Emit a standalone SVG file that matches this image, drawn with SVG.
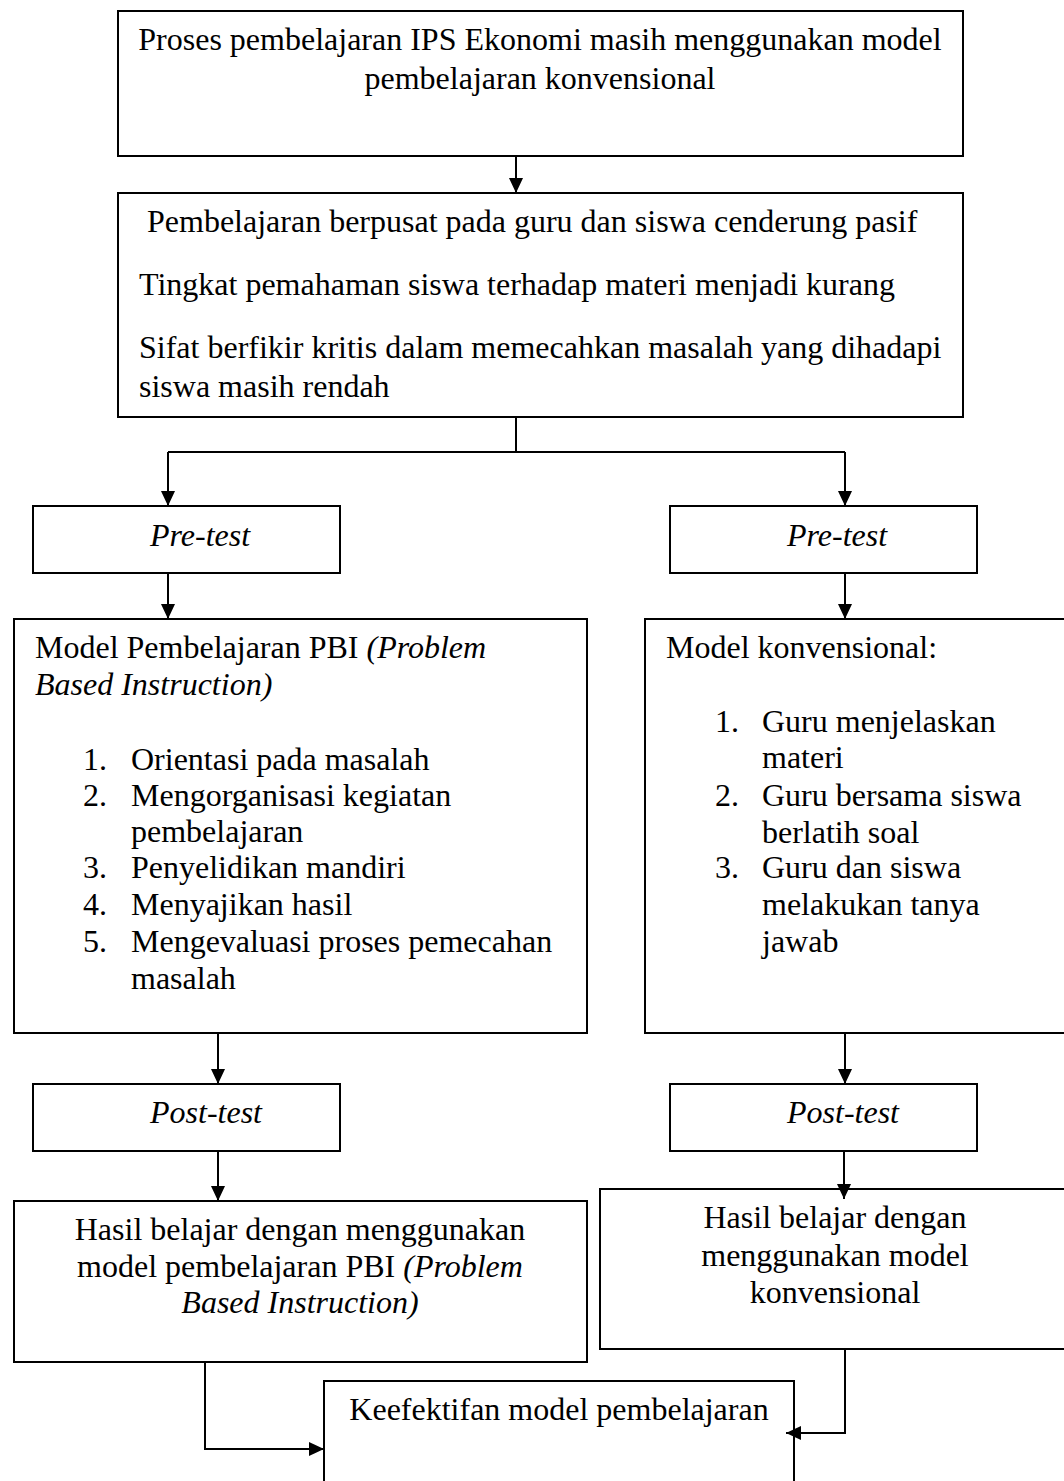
<svg xmlns="http://www.w3.org/2000/svg" width="1064" height="1481" viewBox="0 0 1064 1481">
<style>
.box{fill:#fff;stroke:#000;stroke-width:2}
.t{font-family:"Liberation Serif","Times New Roman",serif;font-size:32px;fill:#000}
.i{font-style:italic}
.c{text-anchor:middle}
.ln{fill:none;stroke:#000;stroke-width:2}
</style>
<defs>
<marker id="ah" markerUnits="userSpaceOnUse" markerWidth="16" markerHeight="14" refX="15" refY="7" orient="auto">
<path d="M0,0 L15,7 L0,14 z" fill="#000"/>
</marker>
</defs>
<rect width="1064" height="1481" fill="#fff"/>
<g id="n-proses">
<rect class="box" x="118" y="11" width="845" height="145"/>
<text class="t c" x="540" y="50">Proses pembelajaran IPS Ekonomi masih menggunakan model</text>
<text class="t c" x="540" y="89">pembelajaran konvensional</text>
</g>
<g id="n-masalah">
<rect class="box" x="118" y="193" width="845" height="224"/>
<text class="t" x="147" y="232">Pembelajaran berpusat pada guru dan siswa cenderung pasif</text>
<text class="t" x="139" y="295">Tingkat pemahaman siswa terhadap materi menjadi kurang</text>
<text class="t" x="139" y="358">Sifat berfikir kritis dalam memecahkan masalah yang dihadapi</text>
<text class="t" x="139" y="397">siswa masih rendah</text>
</g>
<g id="n-pretest-l">
<rect class="box" x="33" y="506" width="307" height="67"/>
<text class="t i" x="150" y="546">Pre-test</text>
</g>
<g id="n-pretest-r">
<rect class="box" x="670" y="506" width="307" height="67"/>
<text class="t i" x="787" y="546">Pre-test</text>
</g>
<g id="n-pbi">
<rect class="box" x="14" y="619" width="573" height="414"/>
<text class="t" x="35" y="658">Model Pembelajaran PBI <tspan class="i">(Problem</tspan></text>
<text class="t i" x="35" y="695">Based Instruction)</text>
<text class="t" x="83" y="770">1.</text><text class="t" x="131" y="770">Orientasi pada masalah</text>
<text class="t" x="83" y="806">2.</text><text class="t" x="131" y="806">Mengorganisasi kegiatan</text>
<text class="t" x="131" y="842">pembelajaran</text>
<text class="t" x="83" y="878">3.</text><text class="t" x="131" y="878">Penyelidikan mandiri</text>
<text class="t" x="83" y="915">4.</text><text class="t" x="131" y="915">Menyajikan hasil</text>
<text class="t" x="83" y="952">5.</text><text class="t" x="131" y="952">Mengevaluasi proses pemecahan</text>
<text class="t" x="131" y="989">masalah</text>
</g>
<g id="n-konv">
<rect class="box" x="645" y="619" width="430" height="414"/>
<text class="t" x="666" y="658">Model konvensional:</text>
<text class="t" x="715" y="732">1.</text><text class="t" x="762" y="732">Guru menjelaskan</text>
<text class="t" x="762" y="768">materi</text>
<text class="t" x="715" y="806">2.</text><text class="t" x="762" y="806">Guru bersama siswa</text>
<text class="t" x="762" y="843">berlatih soal</text>
<text class="t" x="715" y="878">3.</text><text class="t" x="762" y="878">Guru dan siswa</text>
<text class="t" x="762" y="915">melakukan tanya</text>
<text class="t" x="762" y="952">jawab</text>
</g>
<g id="n-posttest-l">
<rect class="box" x="33" y="1084" width="307" height="67"/>
<text class="t i" x="150" y="1123">Post-test</text>
</g>
<g id="n-posttest-r">
<rect class="box" x="670" y="1084" width="307" height="67"/>
<text class="t i" x="787" y="1123">Post-test</text>
</g>
<g id="n-hasil-pbi">
<rect class="box" x="14" y="1201" width="573" height="161"/>
<text class="t c" x="300" y="1240">Hasil belajar dengan menggunakan</text>
<text class="t c" x="300" y="1277">model pembelajaran PBI <tspan class="i">(Problem</tspan></text>
<text class="t c i" x="300" y="1313">Based Instruction)</text>
</g>
<g id="n-hasil-konv">
<rect class="box" x="600" y="1189" width="475" height="160"/>
<text class="t c" x="835" y="1228">Hasil belajar dengan</text>
<text class="t c" x="835" y="1266">menggunakan model</text>
<text class="t c" x="835" y="1303">konvensional</text>
</g>
<g id="n-keefektifan">
<rect class="box" x="324" y="1381" width="470" height="120"/>
<text class="t c" x="559" y="1420">Keefektifan model pembelajaran</text>
</g>
<g id="connectors">
<line class="ln" x1="516" y1="156" x2="516" y2="193" marker-end="url(#ah)"/>
<polyline class="ln" points="516,417 516,452"/>
<polyline class="ln" points="168,452 845,452"/>
<line class="ln" x1="168" y1="452" x2="168" y2="506" marker-end="url(#ah)"/>
<line class="ln" x1="845" y1="452" x2="845" y2="506" marker-end="url(#ah)"/>
<line class="ln" x1="168" y1="573" x2="168" y2="619" marker-end="url(#ah)"/>
<line class="ln" x1="845" y1="573" x2="845" y2="619" marker-end="url(#ah)"/>
<line class="ln" x1="218" y1="1033" x2="218" y2="1084" marker-end="url(#ah)"/>
<line class="ln" x1="845" y1="1033" x2="845" y2="1084" marker-end="url(#ah)"/>
<line class="ln" x1="218" y1="1151" x2="218" y2="1201" marker-end="url(#ah)"/>
<line class="ln" x1="844" y1="1151" x2="844" y2="1199" marker-end="url(#ah)"/>
<polyline class="ln" points="205,1362 205,1449 324,1449" marker-end="url(#ah)"/>
<polyline class="ln" points="845,1349 845,1433 786,1433" marker-end="url(#ah)"/>
</g>
</svg>
